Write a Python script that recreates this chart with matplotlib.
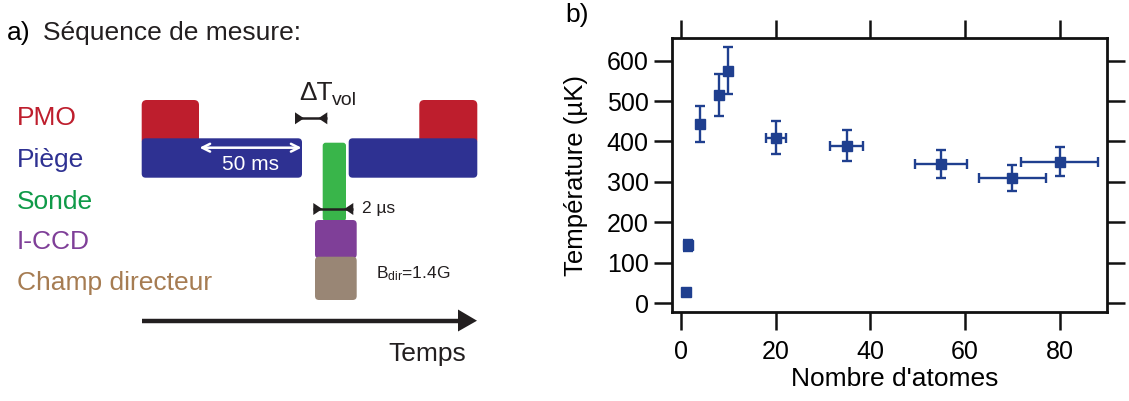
import matplotlib
matplotlib.use("Agg")
import matplotlib.pyplot as plt
from matplotlib.patches import FancyBboxPatch, Polygon
import numpy as np

plt.rcParams['font.family'] = ['Liberation Sans', 'DejaVu Sans']
plt.rcParams['mathtext.fontset'] = 'custom'
plt.rcParams['mathtext.rm'] = 'Liberation Sans'
plt.rcParams['mathtext.it'] = 'Liberation Sans:italic'

# ---- data (panel b) ----
n_atoms = [1, 1.5, 4, 8, 10, 20, 35, 55, 70, 80]
temperature = [28, 143, 443, 515, 575, 409, 390, 345, 310, 350]
temp_err = [0, 14, 45, 52, 58, 41, 38, 35, 32, 36]
atoms_err = [0, 0, 0, 0, 0, 2.1, 3.5, 5.5, 7.1, 8.1]
xticks = [0, 20, 40, 60, 80]
yticks = [0, 100, 200, 300, 400, 500, 600]

# ---- sequence labels (panel a) ----
seq_labels = ['PMO', 'Piège', 'Sonde', 'I-CCD', 'Champ directeur']
seq_text_colors = ['#be1e2d', '#2e3192', '#0f9a48', '#7f3f98', '#a67c52']

W, H = 1129, 401
fig = plt.figure(figsize=(W / 100, H / 100), dpi=100)

# ================= panel a =================
axa = fig.add_axes([0, 0, 500 / W, 1])
axa.set_xlim(0, 500)
axa.set_ylim(H, 0)
axa.axis('off')

axa.text(7, 33, 'a)', fontsize=19, va='center', ha='left')
axa.text(43, 33, 'Séquence de mesure:', fontsize=19, va='center', ha='left', color='#231f20')

label_y = [118, 160, 202, 242, 283]
for lab, col, y in zip(seq_labels, seq_text_colors, label_y):
    axa.text(17, y, lab, fontsize=19, color=col, va='center', ha='left')

def box(x0, x1, y0, y1, color, r=4, z=2):
    p = FancyBboxPatch((x0, y0), x1 - x0, y1 - y0,
                       boxstyle=f"round,pad=0,rounding_size={r}",
                       fc=color, ec='none', zorder=z)
    axa.add_patch(p)

red = '#be1e2d'
blue = '#2e3192'
green = '#39b54a'
purple = '#7f3f98'
brown = '#998675'

box(141.7, 199, 100, 145, red, r=5, z=2)
box(419.3, 477.3, 100, 145, red, r=5, z=2)
box(141.7, 302, 138.3, 177.7, blue, r=4, z=3)
box(348.7, 477.3, 138.3, 177.7, blue, r=4, z=3)
box(322.7, 346, 142.7, 221, green, r=3, z=2)
box(315, 356.7, 220, 258.3, purple, r=4, z=3)
box(315, 356.7, 256.7, 300, brown, r=4, z=4)

# white double arrow on Piège bar
axa.annotate('', xy=(301.5, 147.7), xytext=(199.5, 147.7),
             arrowprops=dict(arrowstyle='<->', color='white', lw=1.8,
                             mutation_scale=14, shrinkA=0, shrinkB=0), zorder=5)
axa.text(250, 164, '50 ms', color='white', fontsize=15, ha='center', va='center', zorder=6)

def dim_arrow(x0, x1, y, h=6, tl=9):
    axa.plot([x0, x1], [y, y], color='#231f20', lw=1.8, zorder=6, solid_capstyle='butt')
    axa.add_patch(Polygon([[x0, y - h], [x0, y + h], [x0 + tl, y]], closed=True,
                          fc='#231f20', ec='none', zorder=6))
    axa.add_patch(Polygon([[x1, y - h], [x1, y + h], [x1 - tl, y]], closed=True,
                          fc='#231f20', ec='none', zorder=6))

dim_arrow(295, 327.3, 118.3)
axa.text(299, 100, 'ΔT', fontsize=19, ha='left', va='baseline', color='#231f20')
axa.text(332, 105, 'vol', fontsize=14, ha='left', va='baseline', color='#231f20')

dim_arrow(313.3, 353.3, 209)
axa.text(362.5, 209, '2 µs', fontsize=12.5, ha='left', va='center', color='#231f20')

axa.text(376, 274, r'B$_{\mathrm{dir}}$=1.4G', fontsize=12.5, ha='left', va='center',
         color='#231f20')

# time arrow
axa.plot([141.7, 462], [320.7, 320.7], color='#231f20', lw=3.2, solid_capstyle='butt')
axa.add_patch(Polygon([[458, 309.5], [458, 331.5], [477, 320.7]], closed=True,
                      fc='#231f20', ec='none'))
axa.text(466.5, 354, 'Temps', fontsize=19, ha='right', va='center', color='#231f20')

# ================= panel b =================
x0, x1, yt, yb = 671.7, 1107.3, 38.3, 311.7
axb = fig.add_axes([x0 / W, 1 - yb / H, (x1 - x0) / W, (yb - yt) / H])
mcol = '#1f3f8f'
axb.errorbar(n_atoms, temperature, yerr=temp_err, xerr=atoms_err, fmt='s',
             color=mcol, ms=7.5, elinewidth=1.7, capsize=3.75, capthick=1.7, zorder=3)
axb.set_xlim(-2.0, 90.1)
axb.set_ylim(-21.5, 655.5)
axb.set_xticks(xticks)
axb.set_yticks(yticks)
axb.tick_params(axis='both', which='both', direction='out', length=12.7, width=1.8,
                labelsize=18, top=True, right=True, color='#111111')
axb.tick_params(axis='x', pad=8)
axb.tick_params(axis='y', pad=4)
for s in axb.spines.values():
    s.set_linewidth(2)
    s.set_color('#111111')
axb.set_xlabel("Nombre d'atomes", fontsize=19, labelpad=2)
axb.xaxis.label.set_x((895 - x0) / (x1 - x0))
axb.set_ylabel('Température (µK)', fontsize=18.5, labelpad=13)
fig.text(565 / W, 1 - 15 / H, 'b)', fontsize=19, ha='left', va='center')

fig.savefig('out.png', dpi=100)
